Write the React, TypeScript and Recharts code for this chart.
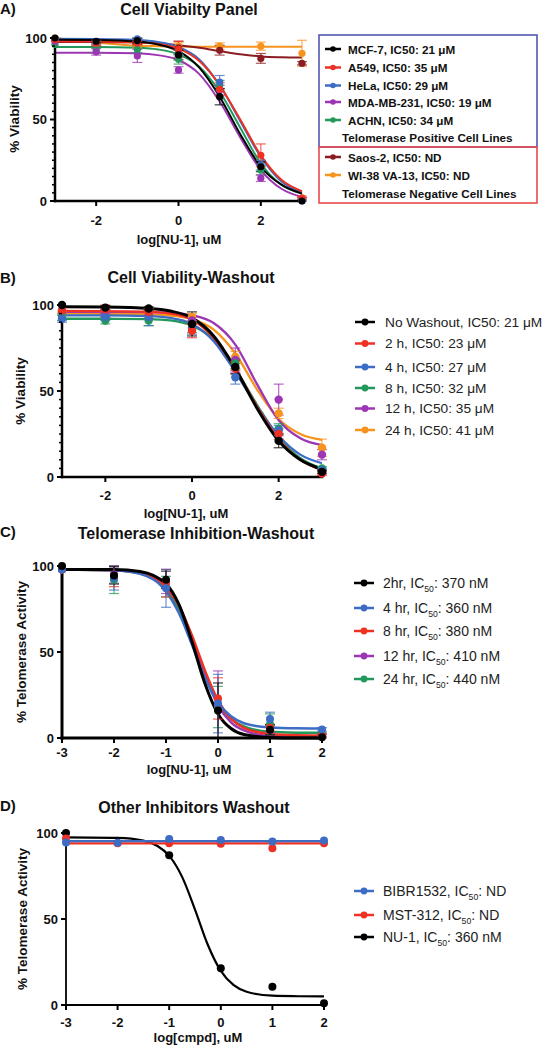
import React from "react";
import { ComposedChart, Line, Scatter, XAxis, YAxis, ErrorBar } from "recharts";

const FONT = "'Liberation Sans', Arial, Helvetica, sans-serif";

// ---------------- shared tick labels ----------------
const Y_TICKS_MINOR = [0, 5, 10, 15, 20, 25, 30, 35, 40, 45, 50, 55, 60, 65, 70, 75, 80, 85, 90, 95, 100];
const Y_TICKS_MAJOR = [0, 50, 100];
const X_TICKS_AB = [-2, 0, 2];
const X_TICKS_CD = [-3, -2, -1, 0, 1, 2];

// ---------------- Panel A: Cell Viability Panel ----------------
const A_DOSE = [-3, -2, -1, 0, 1, 2, 3];
const A_FIT_DOSE = [-3, -2, -1, -0.5, 0, 0.5, 1, 1.5, 2, 2.5, 3];
const A_NAMES = [
  "MCF-7, IC50: 21 μM",
  "A549, IC50: 35 μM",
  "HeLa, IC50: 29 μM",
  "MDA-MB-231, IC50: 19 μM",
  "ACHN, IC50: 34 μM",
  "Saos-2, IC50: ND",
  "WI-38 VA-13, IC50: ND",
];
const A_GROUPS = ["Telomerase Positive Cell Lines", "Telomerase Negative Cell Lines"];
const A_MCF7 = [100, 98, 98.4, 89.6, 64, 21, 0];
const A_MCF7_ERR = [0, 1, 1.5, 3, 5, 3, 0];
const A_MCF7_FIT = [99, 98.8, 97.8, 96, 92, 82, 64, 41, 21, 10, 4.5];
const A_A549 = [99, 97, 97, 93, 68.5, 28, 2];
const A_A549_ERR = [0, 2, 1, 5, 4, 7, 1];
const A_A549_FIT = [98, 97.9, 97.4, 96.3, 93.5, 86, 71, 50, 28, 13, 6];
const A_HELA = [99, 97, 99.5, 91, 73, 22, 0];
const A_HELA_ERR = [0, 1, 0.5, 2, 4, 3, 0];
const A_HELA_FIT = [99.5, 99.4, 98.8, 97.6, 94.5, 87, 71, 49, 27, 12, 5.5];
const A_MDA = [98, 91.5, 89, 80.4, 68, 14, 1];
const A_MDA_ERR = [0, 2, 4, 2, 3, 2, 1];
const A_MDA_FIT = [91, 91, 90.6, 89.5, 86.5, 78, 61, 39, 19, 7.5, 2.5];
const A_ACHN = [96, 93, 93, 87, 71, 19, 1];
const A_ACHN_ERR = [0, 2, 2, 3, 3, 3, 1];
const A_ACHN_FIT = [94.5, 94.5, 94, 93, 90, 82.5, 67, 45, 23, 10, 4.5];
const A_SAOS = [99, 97, 97, 94, 92.5, 87.5, 84.5];
const A_SAOS_ERR = [0, 2, 1, 4, 3, 3, 1];
const A_SAOS_FIT = [97.5, 97.5, 97.3, 96.8, 95.5, 94, 92, 90, 88.7, 88.2, 88];
const A_WI38 = [100, 97, 95, 95, 95, 95, 90.6];
const A_WI38_ERR = [0, 1, 1, 2, 2, 2.5, 8];
const A_WI38_FIT = [100, 97.3, 95.3, 95, 94.8, 94.7, 94.7, 94.7, 94.7, 94.7, 94.7];

// ---------------- Panel B: Cell Viability-Washout ----------------
const B_DOSE = [-3, -2, -1, 0, 1, 2, 3];
const B_FIT_DOSE = [-3, -2, -1, -0.5, 0, 0.5, 1, 1.5, 2, 2.5, 3];
const B_NAMES = [
  "No Washout, IC50: 21 μM",
  "2 h, IC50: 23 μM",
  "4 h, IC50: 27 μM",
  "8 h, IC50: 32 μM",
  "12 h, IC50: 35 μM",
  "24 h, IC50: 41 μM",
];
const B_NOWASH = [100, 98.5, 98, 89, 64, 21, 3];
const B_NOWASH_ERR = [0, 1, 1, 7, 4, 4, 1];
const B_NOWASH_FIT = [99, 98.8, 98, 96.5, 92.5, 82, 63, 40, 21, 10, 4.5];
const B_2H = [97, 97.5, 96, 85, 63, 25, 2];
const B_2H_ERR = [0, 2.5, 2, 4, 3, 3, 1];
const B_2H_FIT = [96.5, 96.4, 96, 95, 91.5, 81, 63, 41, 22, 10, 4];
const B_4H = [92, 93, 93, 86, 58, 27, 4];
const B_4H_ERR = [2, 2, 5, 3, 4, 3, 1];
const B_4H_FIT = [94, 94, 93.5, 92.5, 89, 79, 61, 41, 24, 13, 8];
const B_8H = [93, 91, 91, 87, 66, 28, 5];
const B_8H_ERR = [2, 2, 3, 3, 3, 3, 1];
const B_8H_FIT = [92, 92, 91.8, 91, 88, 80, 63, 42, 23, 11, 5];
const B_12H = [96, 95, 94, 91, 68, 45, 13];
const B_12H_ERR = [0, 2, 2, 2, 7, 9, 3];
const B_12H_FIT = [96, 96, 95.9, 95.5, 94, 89.5, 77, 54, 33, 22.5, 18.5];
const B_24H = [95, 95, 95, 93, 70, 37, 17];
const B_24H_ERR = [1, 2, 2, 2, 3, 3, 5];
const B_24H_FIT = [95, 94.9, 94.7, 93.9, 91.8, 85.7, 71.8, 51, 33.7, 25, 21.6];

// ---------------- Panel C: Telomerase Inhibition-Washout ----------------
const C_DOSE = [-3, -2, -1, 0, 1, 2];
const C_FIT_DOSE = [-3, -2, -1.5, -1, -0.75, -0.5, -0.25, 0, 0.25, 0.5, 1, 1.5, 2];
const C_NAMES = [
  "2hr, IC50: 370 nM",
  "4 hr, IC50: 360 nM",
  "8 hr, IC50: 380 nM",
  "12 hr, IC50: 410 nM",
  "24 hr, IC50: 440 nM",
];
const C_2HR = [100, 94.5, 92, 16, 4.8, 0.5];
const C_2HR_ERR = [0, 5, 5, 16, 3, 0];
const C_2HR_FIT = [98, 97.9, 96.8, 89.6, 77.5, 56, 31.5, 14, 5.5, 2, 0.3, 0, 0];
const C_4HR = [98, 93, 87, 20, 11, 5];
const C_4HR_ERR = [0, 7, 11, 17, 4, 1];
const C_4HR_FIT = [98, 97.5, 95.4, 85.2, 72.5, 54.2, 35, 20.7, 12.6, 8.6, 6.1, 5.6, 5.5];
const C_8HR = [98, 94, 90, 23, 6, 1.5];
const C_8HR_ERR = [0, 6, 8, 12, 2, 1];
const C_8HR_FIT = [98, 97.6, 96, 87.9, 76.9, 59.6, 39.1, 21.9, 11.3, 5.9, 2.3, 1.6, 1.5];
const C_12HR = [98, 95, 91, 19.5, 5, 1];
const C_12HR_ERR = [0, 5, 7, 19.5, 2, 1];
const C_12HR_FIT = [98, 97.7, 96.3, 88.4, 77.1, 58.4, 36.4, 19.1, 9.1, 4.4, 1.2, 1, 1];
const C_24HR = [98, 92, 88, 18, 8, 2];
const C_24HR_ERR = [0, 8, 6, 12, 6, 1];
const C_24HR_FIT = [98, 97.6, 95.7, 86.3, 74.4, 56.2, 36.2, 20.5, 11.3, 6.7, 3.6, 3.1, 3];

// ---------------- Panel D: Other Inhibitors Washout ----------------
const D_DOSE = [-3, -2, -1, 0, 1, 2];
const D_NU1_DOSE = [-3, -1, 0, 1, 2];
const D_FLAT_DOSE = [-3, 2];
const D_FIT_DOSE = [-3, -2, -1.5, -1, -0.75, -0.5, -0.25, 0, 0.25, 0.5, 1, 1.5, 2];
const D_NAMES = ["BIBR1532, IC50: ND", "MST-312, IC50: ND", "NU-1, IC50: 360 nM"];
const D_BIBR = [94.5, 94.3, 96.5, 96, 95, 95.6];
const D_BIBR_FIT = [95.3, 95.3];
const D_MST = [96.8, 94, 94, 93.8, 91.2, 94];
const D_MST_FIT = [94, 94];
const D_NU1 = [100, 87, 21.3, 10.6, 1];
const D_NU1_FIT = [97.5, 97.2, 95.6, 86.7, 74.5, 55.5, 34.9, 19.8, 11.5, 7.7, 5.4, 5.1, 5];

// ---------------- text ----------------
const PANEL_LETTERS = ["A)", "B)", "C)", "D)"];
const PANEL_TITLES = ["Cell Viabilty Panel", "Cell Viability-Washout", "Telomerase Inhibition-Washout", "Other Inhibitors Washout"];
const Y_LABELS = ["% Viability", "% Viability", "% Telomerase Activity", "% Telomerase Activity"];
const X_LABELS = ["log[NU-1], uM", "log[NU-1], uM", "log[NU-1], uM", "log[cmpd], uM"];

// ---------------- colours ----------------
const BLACK = "#000000";
const RED = "#ef3124";
const BLUE = "#3d6cc4";
const PURPLE = "#9d36b4";
const GREEN = "#22995a";
const ORANGE = "#f7941e";
const DARKRED = "#8b1d22";

type Series = {
  name: string;
  color: string;
  x: number[];
  y: number[];
  e?: number[];
  fx: number[];
  fy: number[];
  lw?: number;
};

const A_SERIES: Series[] = [
  { name: A_NAMES[0], color: BLACK, x: A_DOSE, y: A_MCF7, e: A_MCF7_ERR, fx: A_FIT_DOSE, fy: A_MCF7_FIT },
  { name: A_NAMES[1], color: RED, x: A_DOSE, y: A_A549, e: A_A549_ERR, fx: A_FIT_DOSE, fy: A_A549_FIT },
  { name: A_NAMES[2], color: BLUE, x: A_DOSE, y: A_HELA, e: A_HELA_ERR, fx: A_FIT_DOSE, fy: A_HELA_FIT },
  { name: A_NAMES[3], color: PURPLE, x: A_DOSE, y: A_MDA, e: A_MDA_ERR, fx: A_FIT_DOSE, fy: A_MDA_FIT },
  { name: A_NAMES[4], color: GREEN, x: A_DOSE, y: A_ACHN, e: A_ACHN_ERR, fx: A_FIT_DOSE, fy: A_ACHN_FIT },
  { name: A_NAMES[5], color: DARKRED, x: A_DOSE, y: A_SAOS, e: A_SAOS_ERR, fx: A_FIT_DOSE, fy: A_SAOS_FIT },
  { name: A_NAMES[6], color: ORANGE, x: A_DOSE, y: A_WI38, e: A_WI38_ERR, fx: A_FIT_DOSE, fy: A_WI38_FIT },
];
const B_SERIES: Series[] = [
  { name: B_NAMES[0], color: BLACK, x: B_DOSE, y: B_NOWASH, e: B_NOWASH_ERR, fx: B_FIT_DOSE, fy: B_NOWASH_FIT, lw: 3 },
  { name: B_NAMES[1], color: RED, x: B_DOSE, y: B_2H, e: B_2H_ERR, fx: B_FIT_DOSE, fy: B_2H_FIT },
  { name: B_NAMES[2], color: BLUE, x: B_DOSE, y: B_4H, e: B_4H_ERR, fx: B_FIT_DOSE, fy: B_4H_FIT },
  { name: B_NAMES[3], color: GREEN, x: B_DOSE, y: B_8H, e: B_8H_ERR, fx: B_FIT_DOSE, fy: B_8H_FIT },
  { name: B_NAMES[4], color: PURPLE, x: B_DOSE, y: B_12H, e: B_12H_ERR, fx: B_FIT_DOSE, fy: B_12H_FIT },
  { name: B_NAMES[5], color: ORANGE, x: B_DOSE, y: B_24H, e: B_24H_ERR, fx: B_FIT_DOSE, fy: B_24H_FIT },
];
const C_SERIES: Series[] = [
  { name: C_NAMES[0], color: BLACK, x: C_DOSE, y: C_2HR, e: C_2HR_ERR, fx: C_FIT_DOSE, fy: C_2HR_FIT, lw: 3 },
  { name: C_NAMES[1], color: BLUE, x: C_DOSE, y: C_4HR, e: C_4HR_ERR, fx: C_FIT_DOSE, fy: C_4HR_FIT },
  { name: C_NAMES[2], color: RED, x: C_DOSE, y: C_8HR, e: C_8HR_ERR, fx: C_FIT_DOSE, fy: C_8HR_FIT },
  { name: C_NAMES[3], color: PURPLE, x: C_DOSE, y: C_12HR, e: C_12HR_ERR, fx: C_FIT_DOSE, fy: C_12HR_FIT },
  { name: C_NAMES[4], color: GREEN, x: C_DOSE, y: C_24HR, e: C_24HR_ERR, fx: C_FIT_DOSE, fy: C_24HR_FIT },
];
const D_SERIES: Series[] = [
  { name: D_NAMES[0], color: BLUE, x: D_DOSE, y: D_BIBR, fx: D_FLAT_DOSE, fy: D_BIBR_FIT },
  { name: D_NAMES[1], color: RED, x: D_DOSE, y: D_MST, fx: D_FLAT_DOSE, fy: D_MST_FIT },
  { name: D_NAMES[2], color: BLACK, x: D_NU1_DOSE, y: D_NU1, fx: D_FIT_DOSE, fy: D_NU1_FIT },
];

type PanelCfg = {
  top: number;
  height: number;
  width: number;
  plotLeft: number;
  plotRight: number;
  plotTop: number;
  plotBottom: number;
  xDomain: [number, number];
  xTicks: number[];
  yTicks: number[];
  series: Series[];
  dotR: number;
  lineW: number;
  axisW: number;
  xTickDy: number;
};

const PANELS: PanelCfg[] = [
  { top: 0, height: 250, width: 340, plotLeft: 55, plotRight: 302, plotTop: 38, plotBottom: 201, xDomain: [-3, 3], xTicks: X_TICKS_AB, yTicks: Y_TICKS_MINOR, series: A_SERIES, dotR: 3.6, lineW: 2, axisW: 2.5, xTickDy: 24 },
  { top: 250, height: 280, width: 340, plotLeft: 62, plotRight: 322, plotTop: 305, plotBottom: 477, xDomain: [-3, 3], xTicks: X_TICKS_AB, yTicks: Y_TICKS_MINOR, series: B_SERIES, dotR: 4.2, lineW: 2.3, axisW: 2.5, xTickDy: 23 },
  { top: 540, height: 240, width: 340, plotLeft: 62, plotRight: 322, plotTop: 566, plotBottom: 738, xDomain: [-3, 2], xTicks: X_TICKS_CD, yTicks: Y_TICKS_MAJOR, series: C_SERIES, dotR: 4, lineW: 2.5, axisW: 3, xTickDy: 19 },
  { top: 790, height: 260, width: 340, plotLeft: 66, plotRight: 324, plotTop: 833, plotBottom: 1005, xDomain: [-3, 2], xTicks: X_TICKS_CD, yTicks: Y_TICKS_MAJOR, series: D_SERIES, dotR: 4, lineW: 2.2, axisW: 1.8, xTickDy: 22 },
];

const AXIS_BOX = 30;

const toPts = (xs: number[], ys: number[], es?: number[]) =>
  xs.map((x, i) => ({ x, y: ys[i], e: es ? es[i] : 0 }));
const toFit = (xs: number[], ys: number[]) => xs.map((x, i) => ({ x, y: ys[i] }));

const XTick = (props: any) => {
  const { x, y, payload, dyText } = props;
  return (
    <g>
      <line x1={x} x2={x} y1={y} y2={y + 5} stroke="#000" strokeWidth={2} />
      <text x={x} y={y + dyText} textAnchor="middle" fontSize={13} fontWeight="bold" fontFamily={FONT} fill="#111">
        {payload.value}
      </text>
    </g>
  );
};

const YTick = (props: any) => {
  const { x, y, payload } = props;
  const v = payload.value;
  const major = Y_TICKS_MAJOR.includes(v);
  const len = major ? 5 : 3;
  return (
    <g>
      <line x1={x - len} x2={x} y1={y} y2={y} stroke="#000" strokeWidth={major ? 2 : 1.5} />
      {major && (
        <text x={x - 8} y={y} dy="0.36em" textAnchor="end" fontSize={13} fontWeight="bold" fontFamily={FONT} fill="#111">
          {v}
        </text>
      )}
    </g>
  );
};

function Panel({ cfg }: { cfg: PanelCfg }) {
  const margin = {
    top: cfg.plotTop - cfg.top,
    left: cfg.plotLeft - AXIS_BOX,
    right: cfg.width - cfg.plotRight,
    bottom: cfg.top + cfg.height - cfg.plotBottom - AXIS_BOX,
  };
  const items = [...cfg.series].reverse();
  const axisLine = { stroke: "#000", strokeWidth: cfg.axisW, strokeLinecap: "square" as const };
  return (
    <div style={{ position: "absolute", left: 0, top: cfg.top }}>
      <ComposedChart width={cfg.width} height={cfg.height} margin={margin}>
        <XAxis
          type="number"
          dataKey="x"
          domain={cfg.xDomain}
          ticks={cfg.xTicks}
          interval={0}
          height={AXIS_BOX}
          tickSize={0}
          tickMargin={0}
          tickLine={false}
          axisLine={axisLine}
          tick={(p: any) => <XTick {...p} dyText={cfg.xTickDy} />}
        />
        <YAxis
          type="number"
          domain={[0, 100]}
          ticks={cfg.yTicks}
          interval={0}
          width={AXIS_BOX}
          tickSize={0}
          tickMargin={0}
          tickLine={false}
          axisLine={axisLine}
          tick={(p: any) => <YTick {...p} />}
        />
        {items.map((s) => (
          <Line
            key={s.name + "-fit"}
            data={toFit(s.fx, s.fy)}
            dataKey="y"
            type="monotone"
            stroke={s.color}
            strokeWidth={s.lw ?? cfg.lineW}
            dot={false}
            activeDot={false}
            isAnimationActive={false}
          />
        ))}
        {items.map((s) => (
          <Scatter
            key={s.name + "-pts"}
            data={toPts(s.x, s.y, s.e)}
            dataKey="y"
            fill={s.color}
            isAnimationActive={false}
            shape={(p: any) => <circle cx={p.cx} cy={p.cy} r={cfg.dotR} fill={s.color} />}
          >
            {s.e ? (
              <ErrorBar dataKey="e" direction="y" width={5} stroke={s.color} strokeWidth={1.2} strokeOpacity={0.75} />
            ) : null}
          </Scatter>
        ))}
      </ComposedChart>
    </div>
  );
}

// ---------------- overlay texts / legends ----------------
const TEXT_POS = [
  { letterY: 14, titleX: 189, titleY: 15, yLabX: 14, yLabY: 119, xLabX: 179, xLabY: 244 },
  { letterY: 283, titleX: 191, titleY: 283, yLabX: 20, yLabY: 391, xLabX: 186, xLabY: 518 },
  { letterY: 537, titleX: 196, titleY: 539, yLabX: 21, yLabY: 652, xLabX: 189, xLabY: 774 },
  { letterY: 811, titleX: 194, titleY: 813, yLabX: 22, yLabY: 919, xLabX: 198, xLabY: 1042 },
];

const Label50 = ({ text }: { text: string }) => {
  const i = text.indexOf("IC50");
  if (i < 0) return <>{text}</>;
  return (
    <>
      <tspan>{text.slice(0, i + 2)}</tspan>
      <tspan fontSize="0.62em" dy={4}>50</tspan>
      <tspan dy={-4}>{text.slice(i + 4)}</tspan>
    </>
  );
};

const LegendIcon = ({ cx, cy, color, half, r }: { cx: number; cy: number; color: string; half: number; r: number }) => (
  <g>
    <line x1={cx - half} x2={cx + half} y1={cy} y2={cy} stroke={color} strokeWidth={2.5} />
    <circle cx={cx} cy={cy} r={r} fill={color} />
  </g>
);

function Overlay() {
  const aRows = [49, 67.5, 85.5, 102, 120, 157, 175];
  const bRows = [322, 343.5, 367, 388, 408.5, 430];
  const cRows = [583, 608, 631, 656, 679];
  const dRows = [891, 915, 937];
  return (
    <svg width={546} height={1050} style={{ position: "absolute", left: 0, top: 0, pointerEvents: "none" }} fontFamily={FONT}>
      {TEXT_POS.map((p, i) => (
        <g key={i} fill="#111">
          <text x={0} y={p.letterY} fontSize={15} fontWeight="bold">{PANEL_LETTERS[i]}</text>
          <text x={p.titleX} y={p.titleY} fontSize={16} fontWeight="bold" textAnchor="middle">{PANEL_TITLES[i]}</text>
          <text
            x={p.yLabX}
            y={p.yLabY}
            fontSize={13.5}
            fontWeight="bold"
            textAnchor="middle"
            dominantBaseline="central"
            transform={`rotate(-90 ${p.yLabX} ${p.yLabY})`}
          >
            {Y_LABELS[i]}
          </text>
          <text x={p.xLabX} y={p.xLabY} fontSize={13} fontWeight="bold" textAnchor="middle">{X_LABELS[i]}</text>
        </g>
      ))}

      {/* Legend A */}
      <rect x={319} y={35} width={218} height={112} fill="none" stroke="#5257b3" strokeWidth={1.6} />
      <rect x={319} y={147} width={218} height={56} fill="none" stroke="#e84a4a" strokeWidth={1.6} />
      {A_SERIES.map((s, i) => (
        <g key={s.name}>
          <LegendIcon cx={333} cy={aRows[i]} color={s.color} half={8} r={2.8} />
          <text x={348} y={aRows[i]} dominantBaseline="central" fontSize={11.7} fontWeight="bold" fill="#111">{s.name}</text>
        </g>
      ))}
      <text x={342} y={137} dominantBaseline="central" fontSize={11.7} fontWeight="bold" fill="#111">{A_GROUPS[0]}</text>
      <text x={342} y={193} dominantBaseline="central" fontSize={11.7} fontWeight="bold" fill="#111">{A_GROUPS[1]}</text>

      {/* Legend B */}
      {B_SERIES.map((s, i) => (
        <g key={s.name}>
          <LegendIcon cx={365} cy={bRows[i]} color={s.color} half={10} r={3.4} />
          <text x={385} y={bRows[i]} dominantBaseline="central" fontSize={13.7} fill="#222">{s.name}</text>
        </g>
      ))}

      {/* Legend C */}
      {C_SERIES.map((s, i) => (
        <g key={s.name}>
          <LegendIcon cx={364} cy={cRows[i]} color={s.color} half={10} r={3.4} />
          <text x={383} y={cRows[i] + 5} fontSize={14} fill="#222"><Label50 text={s.name} /></text>
        </g>
      ))}

      {/* Legend D */}
      {D_SERIES.map((s, i) => (
        <g key={s.name}>
          <LegendIcon cx={364} cy={dRows[i]} color={s.color} half={10} r={3.4} />
          <text x={383} y={dRows[i] + 5} fontSize={14} fill="#222"><Label50 text={s.name} /></text>
        </g>
      ))}
    </svg>
  );
}

export default function App() {
  return (
    <div style={{ position: "absolute", left: 0, top: 0, width: 546, height: 1050, background: "#fff", fontFamily: FONT }}>
      {PANELS.map((cfg, i) => (
        <Panel key={i} cfg={cfg} />
      ))}
      <Overlay />
    </div>
  );
}
